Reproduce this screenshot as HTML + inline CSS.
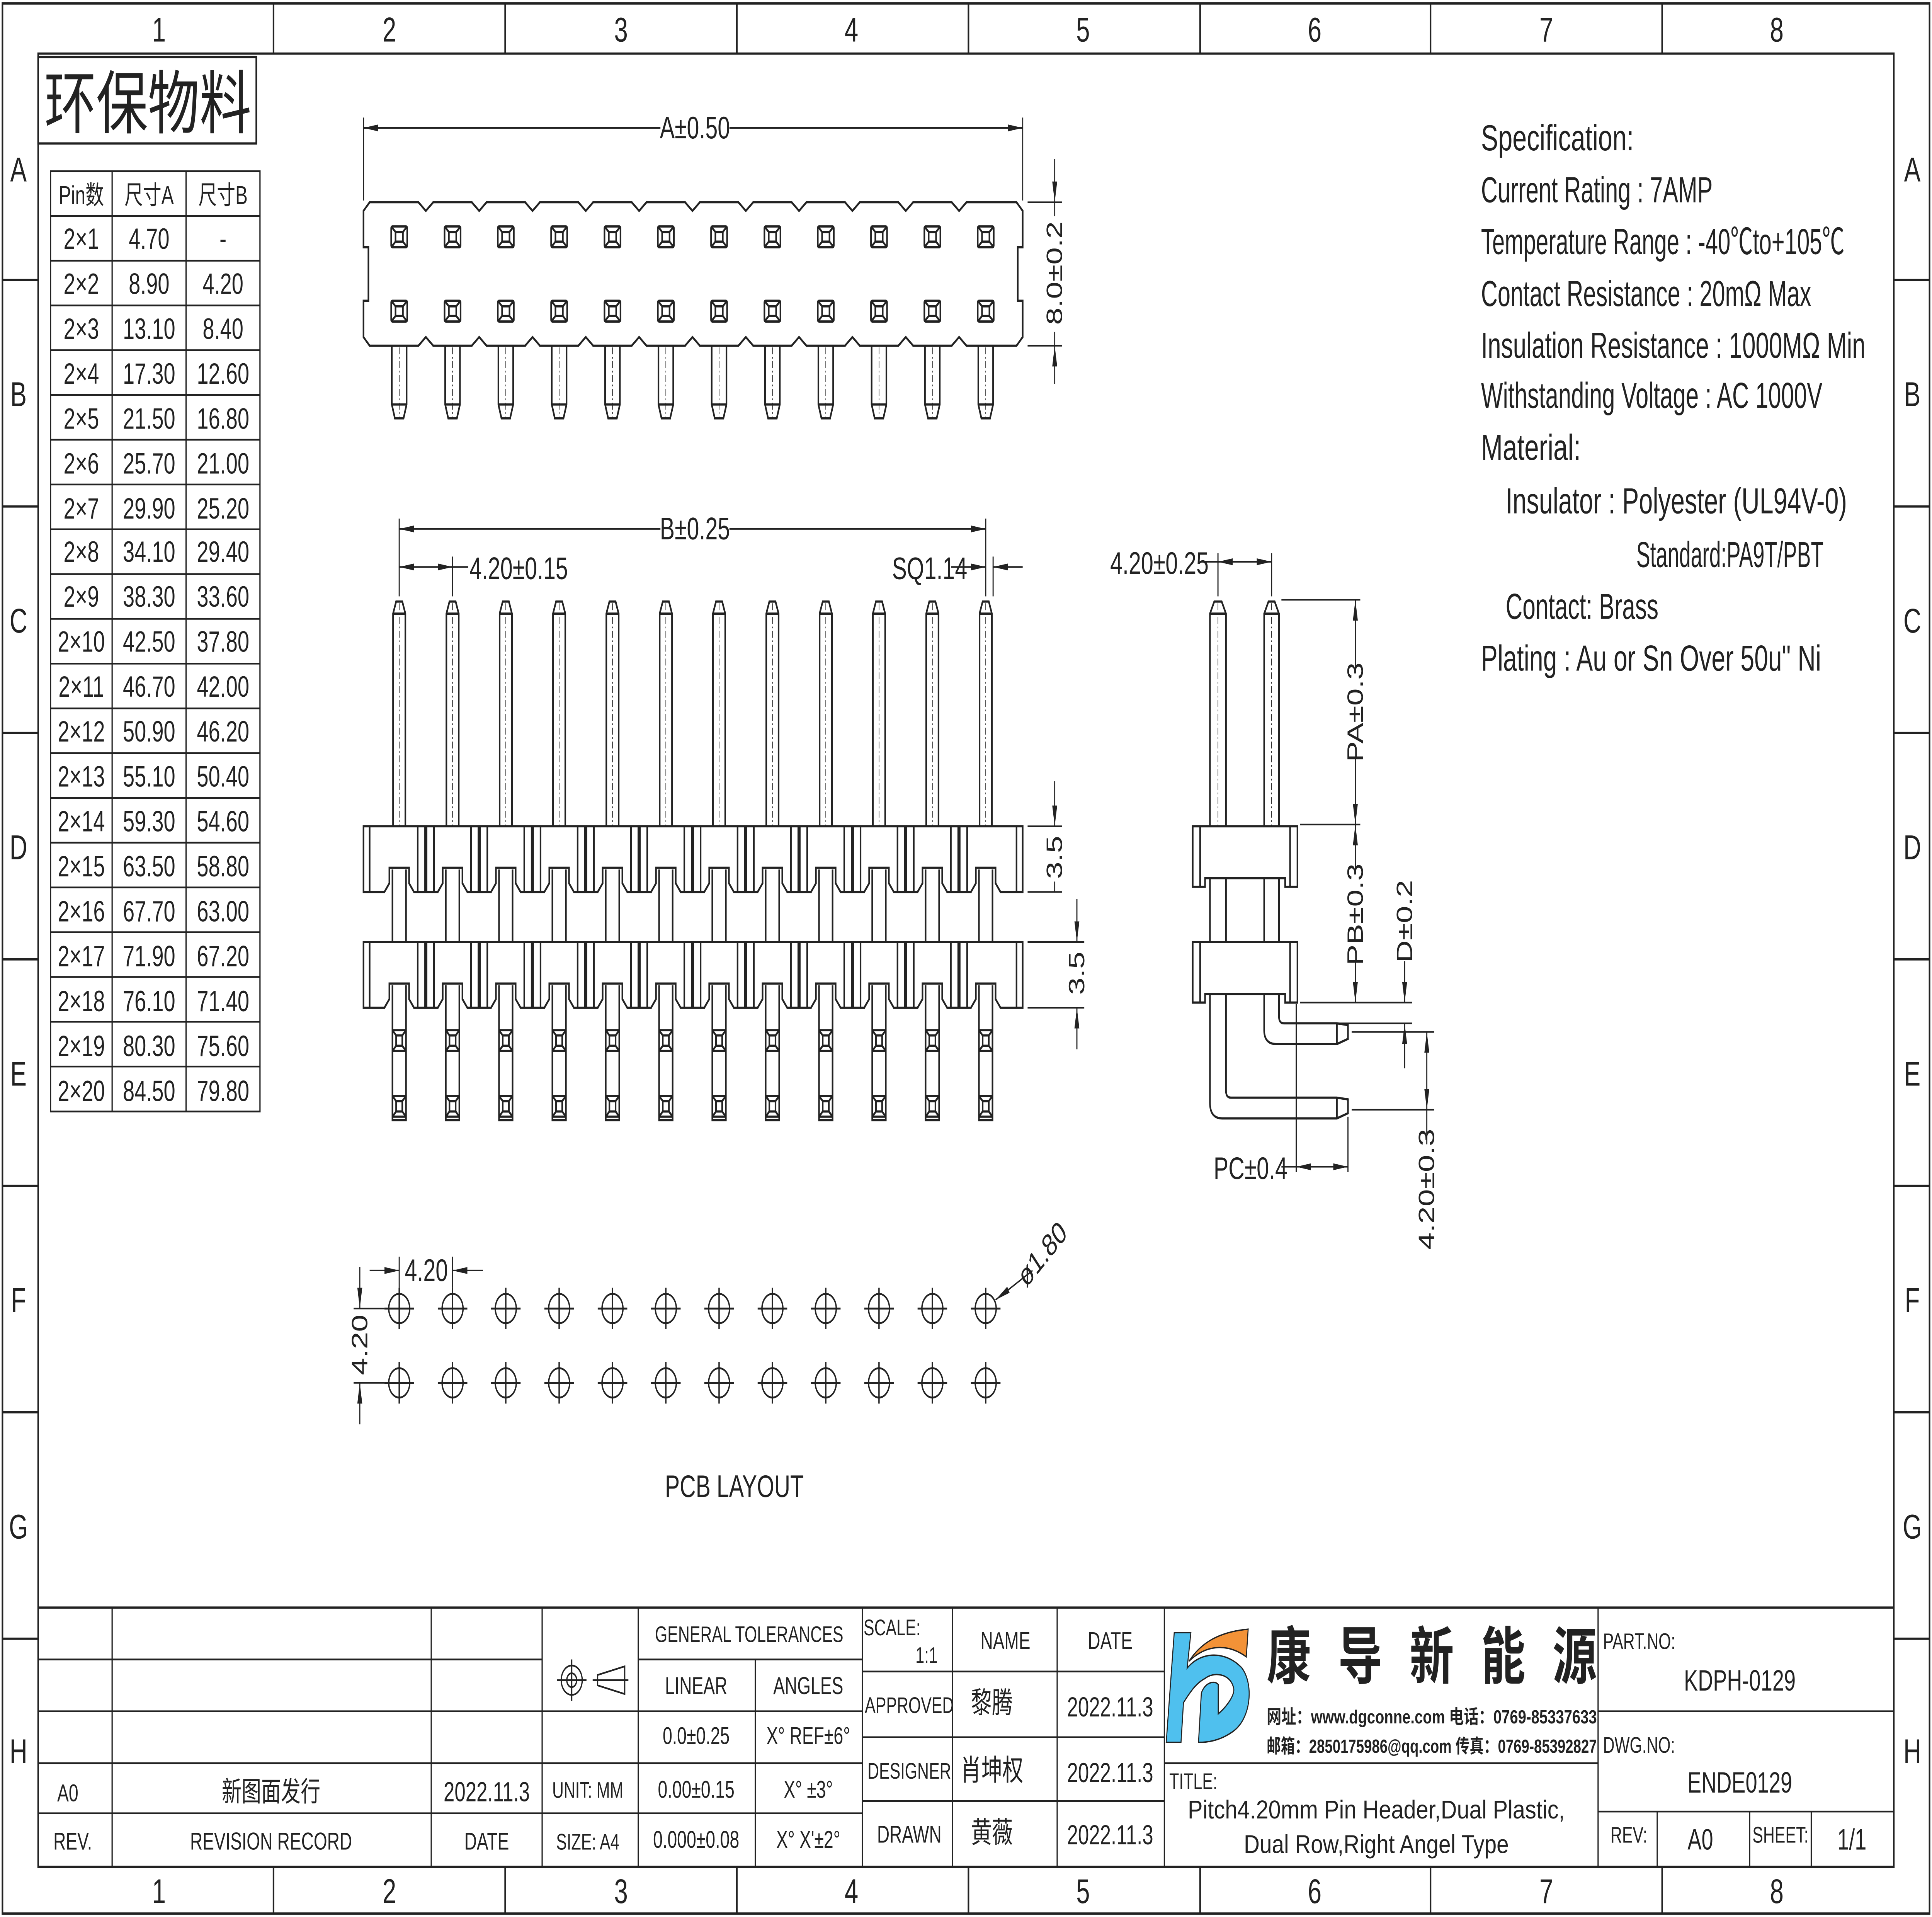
<!DOCTYPE html>
<html><head><meta charset="utf-8">
<style>
html,body{margin:0;padding:0;background:#fff;overflow:hidden;width:100%;height:100%;}
svg{display:block;position:absolute;left:0;top:0;width:100vw;height:100vh;}
text{font-family:"Liberation Sans Narrow","Liberation Sans","Noto Sans CJK SC",sans-serif;fill:#222;}
.cj{font-family:"Liberation Sans","Noto Sans CJK SC",sans-serif;}
</style></head>
<body>
<svg xmlns="http://www.w3.org/2000/svg" xmlns:xlink="http://www.w3.org/1999/xlink" viewBox="0 0 1568 1109" preserveAspectRatio="none">
<defs>
<marker id="ar" viewBox="0 0 12 4" refX="12" refY="2" markerWidth="12" markerHeight="4" markerUnits="userSpaceOnUse" orient="auto-start-reverse"><path d="M0,0 L12,2 L0,4 z" fill="#222"/></marker>
<g id="sq"><rect x="-6.5" y="-6" width="13" height="12" rx="1" fill="none"/><rect x="-3" y="-2.8" width="6" height="5.6" fill="none"/><path d="M-6.5,-6 L-3,-2.8 M6.5,-6 L3,-2.8 M-6.5,6 L-3,2.8 M6.5,6 L3,2.8" fill="none"/></g>
<g id="sqb"><path d="M-5.5,596 H5.5 M-5.5,608 H5.5" fill="none"/><rect x="-2.5" y="599" width="5" height="6" fill="none"/><path d="M-5.5,596 L-2.5,599 M5.5,596 L2.5,599 M-5.5,608 L-2.5,605 M5.5,608 L2.5,605" fill="none"/></g>
<g id="tv">
 <use xlink:href="#sq" transform="translate(0,137)"/>
 <use xlink:href="#sq" transform="translate(0,180)"/>
 <path d="M-6,200 V234 L-3.5,242 H3.5 L6,234 V200 M-6,234 H6" fill="none"/>
 <path d="M0,201 V242" fill="none" stroke-width="0.5" stroke-dasharray="4,1.5,1,1.5"/>
</g>
<g id="nt">
 <rect x="-5.5" y="115.5" width="11" height="3" fill="#fff" stroke="none"/>
 <polyline points="-6,117 0,122 6,117" fill="none"/>
 <rect x="-5.5" y="198.5" width="11" height="3" fill="#fff" stroke="none"/>
 <polyline points="-6,200 0,195 6,200" fill="none"/>
</g>
<g id="fp">
 <path d="M-5,478 V355 L-2.5,348 H2.5 L5,355 V478 M-5,355 H5" fill="none"/>
 <path d="M0,349 V478" fill="none" stroke-width="0.5" stroke-dasharray="4,1.5,1,1.5"/>
 <rect x="-11.5" y="514" width="23" height="4" fill="#fff" stroke="none"/>
 <polyline points="-12,516 -8,511 -8,502 8,502 8,511 12,516" fill="none"/>
 <path d="M-5.5,503 V545 M5.5,503 V545" fill="none"/>
 <rect x="-11.5" y="581" width="23" height="4" fill="#fff" stroke="none"/>
 <polyline points="-12,583 -8,578 -8,569 8,569 8,578 12,583" fill="none"/>
 <path d="M-5.5,570 V648 H5.5 V570" fill="none"/>
 <use xlink:href="#sqb"/>
 <use xlink:href="#sqb" transform="translate(0,38)"/>
</g>
<g id="gl">
 <path d="M15,478 V516 M21,478 V516 M22.2,478 V516 M28.2,478 V516 M15,545 V583 M21,545 V583 M22.2,545 V583 M28.2,545 V583" fill="none"/>
</g>
<g id="ph">
 <circle cx="0" cy="757" r="8.5" fill="none"/><path d="M-12,757 H12 M0,745 V769" fill="none"/>
 <circle cx="0" cy="800" r="8.5" fill="none"/><path d="M-12,800 H12 M0,788 V812" fill="none"/>
</g>
</defs>

<rect width="1568" height="1109" fill="#fff"/>
<g stroke="#222" stroke-width="1.3" fill="none">
<rect x="2" y="2" width="1564" height="1105"/>
<rect x="31" y="31" width="1506" height="1049"/>
<path d="M222,2V31M410,2V31M598,2V31M786,2V31M974,2V31M1161,2V31M1349,2V31M222,1080V1107M410,1080V1107M598,1080V1107M786,1080V1107M974,1080V1107M1161,1080V1107M1349,1080V1107"/>
<path d="M2,162H31M2,293H31M2,424H31M2,555H31M2,686H31M2,817H31M2,948H31M1537,162H1566M1537,293H1566M1537,424H1566M1537,555H1566M1537,686H1566M1537,817H1566M1537,948H1566"/>
<rect x="31" y="33" width="177" height="50"/>
<rect x="41" y="99" width="170" height="544" stroke-width="1"/>
<path stroke-width="1" d="M91,99V643M151,99V643 M41,124.9H211M41,150.8H211M41,176.7H211M41,202.6H211M41,228.5H211M41,254.4H211M41,280.3H211M41,306.2H211M41,332.1H211M41,358H211M41,383.9H211M41,409.8H211M41,435.7H211M41,461.6H211M41,487.5H211M41,513.4H211M41,539.3H211M41,565.2H211M41,591.1H211M41,617H211"/>

<path d="M295,122 L300,117 H825 L830,122 V143 H826 V174 H830 V195 L825,200 H300 L295,195 V174 H299 V143 H295 Z"/>
<use xlink:href="#nt" x="345.6"/><use xlink:href="#nt" x="388.9"/><use xlink:href="#nt" x="432.2"/><use xlink:href="#nt" x="475.4"/><use xlink:href="#nt" x="518.7"/><use xlink:href="#nt" x="562"/><use xlink:href="#nt" x="605.3"/><use xlink:href="#nt" x="648.5"/><use xlink:href="#nt" x="691.8"/><use xlink:href="#nt" x="735.1"/><use xlink:href="#nt" x="778.4"/>
<use xlink:href="#tv" x="324"/><use xlink:href="#tv" x="367.3"/><use xlink:href="#tv" x="410.5"/><use xlink:href="#tv" x="453.8"/><use xlink:href="#tv" x="497.1"/><use xlink:href="#tv" x="540.4"/><use xlink:href="#tv" x="583.6"/><use xlink:href="#tv" x="626.9"/><use xlink:href="#tv" x="670.2"/><use xlink:href="#tv" x="713.4"/><use xlink:href="#tv" x="756.7"/><use xlink:href="#tv" x="800"/>
<g stroke-width="0.9">
<path d="M295,68V116M830,68V116"/>
<line x1="295" y1="74" x2="536" y2="74" marker-start="url(#ar)"/>
<line x1="592" y1="74" x2="830" y2="74" marker-end="url(#ar)"/>
<path d="M834,117H862M834,200H862"/>
<line x1="856" y1="92" x2="856" y2="117" marker-end="url(#ar)"/>
<line x1="856" y1="222" x2="856" y2="200" marker-end="url(#ar)"/>
<line x1="856" y1="117" x2="856" y2="125"/>
<line x1="856" y1="192" x2="856" y2="200"/>
</g>

<rect x="295" y="478" width="535" height="38"/>
<rect x="295" y="545" width="535" height="38"/>
<path d="M300,478V516M825,478V516M300,545V583M825,545V583"/>
<use xlink:href="#gl" x="324"/><use xlink:href="#gl" x="367.3"/><use xlink:href="#gl" x="410.5"/><use xlink:href="#gl" x="453.8"/><use xlink:href="#gl" x="497.1"/><use xlink:href="#gl" x="540.4"/><use xlink:href="#gl" x="583.6"/><use xlink:href="#gl" x="626.9"/><use xlink:href="#gl" x="670.2"/><use xlink:href="#gl" x="713.4"/><use xlink:href="#gl" x="756.7"/>
<use xlink:href="#fp" x="324"/><use xlink:href="#fp" x="367.3"/><use xlink:href="#fp" x="410.5"/><use xlink:href="#fp" x="453.8"/><use xlink:href="#fp" x="497.1"/><use xlink:href="#fp" x="540.4"/><use xlink:href="#fp" x="583.6"/><use xlink:href="#fp" x="626.9"/><use xlink:href="#fp" x="670.2"/><use xlink:href="#fp" x="713.4"/><use xlink:href="#fp" x="756.7"/><use xlink:href="#fp" x="800"/>
<g stroke-width="0.9">
<path d="M324,300V345M800,300V345M367.3,322V345M806,322V345"/>
<line x1="324" y1="306" x2="536" y2="306" marker-start="url(#ar)"/>
<line x1="592" y1="306" x2="800" y2="306" marker-end="url(#ar)"/>
<line x1="324" y1="328" x2="367.3" y2="328" marker-start="url(#ar)" marker-end="url(#ar)"/>
<line x1="367.3" y1="328" x2="380" y2="328"/>
<line x1="772" y1="328" x2="800" y2="328" marker-end="url(#ar)"/>
<line x1="830" y1="328" x2="806" y2="328" marker-end="url(#ar)"/>
<path d="M834,478H862M834,516H862M834,545H880M834,583H880"/>
<line x1="856" y1="452" x2="856" y2="478" marker-end="url(#ar)"/>
<line x1="856" y1="516" x2="856" y2="510"/>
<line x1="874" y1="520" x2="874" y2="545" marker-end="url(#ar)"/>
<line x1="874" y1="607" x2="874" y2="583" marker-end="url(#ar)"/>
</g>

<path d="M982,478V355L985.5,348H991.5L995,355V478 M982,355H995"/>
<path d="M1026,478V355L1029.5,348H1034.5L1038,355V478 M1026,355H1038"/>
<path d="M988.5,349V478M1032,349V478" stroke-width="0.5" stroke-dasharray="4,1.5,1,1.5"/>
<path d="M968,478H1053V513H1043V508H978V513H968Z"/>
<path d="M974,478V513M1047,478V513"/>
<path d="M982,508V545M995,508V545M1026,508V545M1038,508V545"/>
<path d="M968,545H1053V580H1043V575H978V580H968Z"/>
<path d="M974,545V580M1047,545V580"/>
<path d="M1026,575V596Q1026,604 1036,604H1085L1094,601V593L1085,592H1042Q1038,592 1038,588V575"/>
<path d="M1085,592V604"/>
<path d="M982,575V638Q982,647 992,647H1085L1094,644V636L1085,635H999Q995,635 995,631V575"/>
<path d="M1085,635V647"/>
<g stroke-width="0.9">
<path d="M988.5,320V345M1032,320V345"/>
<line x1="988.5" y1="325" x2="1032" y2="325" marker-start="url(#ar)" marker-end="url(#ar)"/>
<line x1="974" y1="325" x2="988.5" y2="325"/>
<path d="M1040,347H1104M1055,477H1104M1055,580H1146M1040,592H1146M1097,597H1164M1097,642H1164"/>
<line x1="1100" y1="347" x2="1100" y2="387" marker-start="url(#ar)"/>
<line x1="1100" y1="438" x2="1100" y2="477" marker-end="url(#ar)"/>
<line x1="1100" y1="477" x2="1100" y2="503" marker-start="url(#ar)"/>
<line x1="1100" y1="556" x2="1100" y2="580" marker-end="url(#ar)"/>
<line x1="1140" y1="556" x2="1140" y2="580" marker-end="url(#ar)"/>
<line x1="1140" y1="618" x2="1140" y2="592" marker-end="url(#ar)"/>
<line x1="1158" y1="597" x2="1158" y2="642" marker-start="url(#ar)" marker-end="url(#ar)"/>
<line x1="1158" y1="642" x2="1158" y2="662"/>
<path d="M1052,581V678M1094,646V678"/>
<line x1="1052" y1="675" x2="1094" y2="675" marker-start="url(#ar)" marker-end="url(#ar)"/>
<line x1="1040" y1="675" x2="1052" y2="675"/>
</g>

<g stroke-width="1.1">
<use xlink:href="#ph" x="324"/><use xlink:href="#ph" x="367.3"/><use xlink:href="#ph" x="410.5"/><use xlink:href="#ph" x="453.8"/><use xlink:href="#ph" x="497.1"/><use xlink:href="#ph" x="540.4"/><use xlink:href="#ph" x="583.6"/><use xlink:href="#ph" x="626.9"/><use xlink:href="#ph" x="670.2"/><use xlink:href="#ph" x="713.4"/><use xlink:href="#ph" x="756.7"/><use xlink:href="#ph" x="800"/>
</g>
<g stroke-width="0.9">
<path d="M324,727V745M367.3,727V745M287,757H312M287,800H312"/>
<line x1="300" y1="735" x2="324" y2="735" marker-end="url(#ar)"/>
<line x1="392" y1="735" x2="367.3" y2="735" marker-end="url(#ar)"/>
<line x1="292" y1="733" x2="292" y2="757" marker-end="url(#ar)"/>
<line x1="292" y1="824" x2="292" y2="800" marker-end="url(#ar)"/>
<line x1="838" y1="735" x2="808" y2="752" marker-end="url(#ar)"/>
</g>

<path d="M31,930H1537"/>
<path stroke-width="1" d="M31,960H440M31,990H518M31,1020H440M31,1049H518M440,1020H518 M518,960H700M518,990H700M518,1020H700M518,1049H700 M700,967H945M700,1005H945M700,1042H945 M945,1020H1297 M1297,990H1537M1297,1048H1537"/>
<path stroke-width="1" d="M91,930V1080M350,930V1080M440,930V1080M518,930V1080M613,960V1080M700,930V1080M773,930V1080M858,930V1080M945,930V1080M1297,930V1080M1345,1048V1080M1420,1048V1080M1470,1048V1080"/>
<g stroke-width="1">
<circle cx="464" cy="972" r="8.5"/><circle cx="464" cy="972" r="4"/><path d="M452,972H476M464,960V984"/>
<path d="M485,969L507,964V980L485,975Z"/><path d="M481,972H510"/>
</g>
</g>

<path d="M946.5,1008 L953,944.5 L966.5,944.5 L963.5,965 C975,955 995,955 1008,965 C1018,975 1015,995 1000,1002 C990,1007 980,1008 972.7,1008 L975,979.5 C978,973 986,972 988.7,974.5 L988.7,991.5 C996,987 1003,980 1001,976 C998,968 985,967 978,971 C970,974 965,980 960.5,985 L958.5,1008 Z" fill="#4fc0ee" stroke="#222" stroke-width="0.8"/>
<path d="M965,961 C975,950 990,944 1013,942.5 L1011.5,958.5 C995,950 978,952 965,961 Z" fill="#f39237" stroke="#222" stroke-width="0.8"/>

<g font-size="20" text-anchor="middle">
<text x="129" y="24">1</text><text x="316" y="24">2</text><text x="504" y="24">3</text><text x="691" y="24">4</text><text x="879" y="24">5</text><text x="1067" y="24">6</text><text x="1255" y="24">7</text><text x="1442" y="24">8</text>
<text x="129" y="1101">1</text><text x="316" y="1101">2</text><text x="504" y="1101">3</text><text x="691" y="1101">4</text><text x="879" y="1101">5</text><text x="1067" y="1101">6</text><text x="1255" y="1101">7</text><text x="1442" y="1101">8</text>
<text x="15" y="105">A</text><text x="15" y="235">B</text><text x="15" y="366">C</text><text x="15" y="497">D</text><text x="15" y="628">E</text><text x="15" y="759">F</text><text x="15" y="890">G</text><text x="15" y="1020">H</text>
<text x="1552" y="105">A</text><text x="1552" y="235">B</text><text x="1552" y="366">C</text><text x="1552" y="497">D</text><text x="1552" y="628">E</text><text x="1552" y="759">F</text><text x="1552" y="890">G</text><text x="1552" y="1020">H</text>
</g>
<text class="cj" x="36" y="74" font-size="40" textLength="168" lengthAdjust="spacingAndGlyphs">环保物料</text>

<g font-size="17" text-anchor="middle">
<text class="cj" x="66" y="118" font-size="15">Pin数</text><text class="cj" x="121" y="118" font-size="15">尺寸A</text><text class="cj" x="181" y="118" font-size="15">尺寸B</text>
<text x="66" y="144">2×1</text><text x="121" y="144">4.70</text><text x="181" y="144">-</text>
<text x="66" y="170">2×2</text><text x="121" y="170">8.90</text><text x="181" y="170">4.20</text>
<text x="66" y="196">2×3</text><text x="121" y="196">13.10</text><text x="181" y="196">8.40</text>
<text x="66" y="222">2×4</text><text x="121" y="222">17.30</text><text x="181" y="222">12.60</text>
<text x="66" y="248">2×5</text><text x="121" y="248">21.50</text><text x="181" y="248">16.80</text>
<text x="66" y="274">2×6</text><text x="121" y="274">25.70</text><text x="181" y="274">21.00</text>
<text x="66" y="300">2×7</text><text x="121" y="300">29.90</text><text x="181" y="300">25.20</text>
<text x="66" y="325">2×8</text><text x="121" y="325">34.10</text><text x="181" y="325">29.40</text>
<text x="66" y="351">2×9</text><text x="121" y="351">38.30</text><text x="181" y="351">33.60</text>
<text x="66" y="377">2×10</text><text x="121" y="377">42.50</text><text x="181" y="377">37.80</text>
<text x="66" y="403">2×11</text><text x="121" y="403">46.70</text><text x="181" y="403">42.00</text>
<text x="66" y="429">2×12</text><text x="121" y="429">50.90</text><text x="181" y="429">46.20</text>
<text x="66" y="455">2×13</text><text x="121" y="455">55.10</text><text x="181" y="455">50.40</text>
<text x="66" y="481">2×14</text><text x="121" y="481">59.30</text><text x="181" y="481">54.60</text>
<text x="66" y="507">2×15</text><text x="121" y="507">63.50</text><text x="181" y="507">58.80</text>
<text x="66" y="533">2×16</text><text x="121" y="533">67.70</text><text x="181" y="533">63.00</text>
<text x="66" y="559">2×17</text><text x="121" y="559">71.90</text><text x="181" y="559">67.20</text>
<text x="66" y="585">2×18</text><text x="121" y="585">76.10</text><text x="181" y="585">71.40</text>
<text x="66" y="611">2×19</text><text x="121" y="611">80.30</text><text x="181" y="611">75.60</text>
<text x="66" y="637">2×20</text><text x="121" y="637">84.50</text><text x="181" y="637">79.80</text>
</g>

<g font-size="18">
<text x="564" y="80" text-anchor="middle">A±0.50</text>
<text x="564" y="312" text-anchor="middle">B±0.25</text>
<text x="381" y="335">4.20±0.15</text>
<text x="724" y="335">SQ1.14</text>
<text transform="translate(862,158) rotate(-90)" text-anchor="middle">8.0±0.2</text>
<text transform="translate(862,496) rotate(-90)" text-anchor="middle">3.5</text>
<text transform="translate(880,563) rotate(-90)" text-anchor="middle">3.5</text>
<text x="901" y="332">4.20±0.25</text>
<text transform="translate(1106,412) rotate(-90)" text-anchor="middle">PA±0.3</text>
<text transform="translate(1106,529) rotate(-90)" text-anchor="middle">PB±0.3</text>
<text transform="translate(1146,533) rotate(-90)" text-anchor="middle">D±0.2</text>
<text transform="translate(1164,688) rotate(-90)" text-anchor="middle">4.20±0.3</text>
<text x="985" y="682">PC±0.4</text>
<text x="346" y="741" text-anchor="middle">4.20</text>
<text transform="translate(298,778) rotate(-90)" text-anchor="middle">4.20</text>
<text transform="translate(850,730) rotate(-42)" text-anchor="middle">ø1.80</text>
<text x="596" y="866" text-anchor="middle">PCB LAYOUT</text>
</g>

<g font-size="21">
<text x="1202" y="87" textLength="124" lengthAdjust="spacingAndGlyphs">Specification:</text>
<text x="1202" y="117" textLength="188" lengthAdjust="spacingAndGlyphs">Current Rating : 7AMP</text>
<text x="1202" y="147" textLength="295" lengthAdjust="spacingAndGlyphs">Temperature Range : -40℃to+105℃</text>
<text x="1202" y="177" textLength="268" lengthAdjust="spacingAndGlyphs">Contact Resistance : 20mΩ Max</text>
<text x="1202" y="207" textLength="312" lengthAdjust="spacingAndGlyphs">Insulation Resistance : 1000MΩ Min</text>
<text x="1202" y="236" textLength="277" lengthAdjust="spacingAndGlyphs">Withstanding Voltage : AC 1000V</text>
<text x="1202" y="266" textLength="81" lengthAdjust="spacingAndGlyphs">Material:</text>
<text x="1222" y="297" textLength="277" lengthAdjust="spacingAndGlyphs">Insulator : Polyester (UL94V-0)</text>
<text x="1328" y="328" textLength="152" lengthAdjust="spacingAndGlyphs">Standard:PA9T/PBT</text>
<text x="1222" y="358" textLength="124" lengthAdjust="spacingAndGlyphs">Contact: Brass</text>
<text x="1202" y="388" textLength="276" lengthAdjust="spacingAndGlyphs">Plating : Au or Sn Over 50u" Ni</text>
</g>

<g font-size="14" text-anchor="middle">
<text x="55" y="1042">A0</text><text class="cj" x="220" y="1042" font-size="16">新图面发行</text><text x="395" y="1042" font-size="16">2022.11.3</text>
<text x="59" y="1070">REV.</text><text x="220" y="1070">REVISION RECORD</text><text x="395" y="1070">DATE</text>
<text x="477" y="1040" font-size="13">UNIT: MM</text><text x="477" y="1070" font-size="13">SIZE: A4</text>
<text x="608" y="950" font-size="13">GENERAL TOLERANCES</text>
<text x="565" y="980">LINEAR</text><text x="656" y="980">ANGLES</text>
<text x="565" y="1009">0.0±0.25</text><text x="656" y="1009">X° REF±6°</text>
<text x="565" y="1040">0.00±0.15</text><text x="656" y="1040">X° ±3°</text>
<text x="565" y="1069">0.000±0.08</text><text x="656" y="1069">X° X'±2°</text>
<text x="724" y="946" font-size="13">SCALE:</text><text x="752" y="962" font-size="13">1:1</text>
<text x="816" y="954">NAME</text><text x="901" y="954">DATE</text>
<text x="738" y="991" font-size="13">APPROVED</text><text class="cj" x="805" y="991" font-size="17">黎腾</text><text x="901" y="993" font-size="16">2022.11.3</text>
<text x="738" y="1029" font-size="13">DESIGNER</text><text class="cj" x="805" y="1030" font-size="17">肖坤权</text><text x="901" y="1031" font-size="16">2022.11.3</text>
<text x="738" y="1066">DRAWN</text><text class="cj" x="805" y="1066" font-size="17">黄薇</text><text x="901" y="1067" font-size="16">2022.11.3</text>
<text x="1412" y="978" font-size="17">KDPH-0129</text>
<text x="1412" y="1037" font-size="17">ENDE0129</text>
<text x="1322" y="1066" font-size="13">REV:</text><text x="1380" y="1070" font-size="17">A0</text>
<text x="1445" y="1066" font-size="13">SHEET:</text><text x="1503" y="1070" font-size="17">1/1</text>
<text x="1117" y="1052" font-size="15" textLength="306" lengthAdjust="spacingAndGlyphs">Pitch4.20mm Pin Header,Dual Plastic,</text>
<text x="1117" y="1072" font-size="15" textLength="215" lengthAdjust="spacingAndGlyphs">Dual Row,Right Angel Type</text>
</g>
<g font-size="13">
<text x="1301" y="954">PART.NO:</text>
<text x="1301" y="1014">DWG.NO:</text>
<text x="949" y="1035">TITLE:</text>
</g>
<text class="cj" x="1028" y="971" font-size="36" font-weight="bold" textLength="268" lengthAdjust="spacing">康导新能源</text>
<text class="cj" x="1028" y="997" font-size="11" font-weight="bold" textLength="268" lengthAdjust="spacingAndGlyphs">网址：www.dgconne.com    电话：0769-85337633</text>
<text class="cj" x="1028" y="1014" font-size="11" font-weight="bold" textLength="268" lengthAdjust="spacingAndGlyphs">邮箱：2850175986@qq.com 传真：0769-85392827</text>
</svg>
</body></html>
